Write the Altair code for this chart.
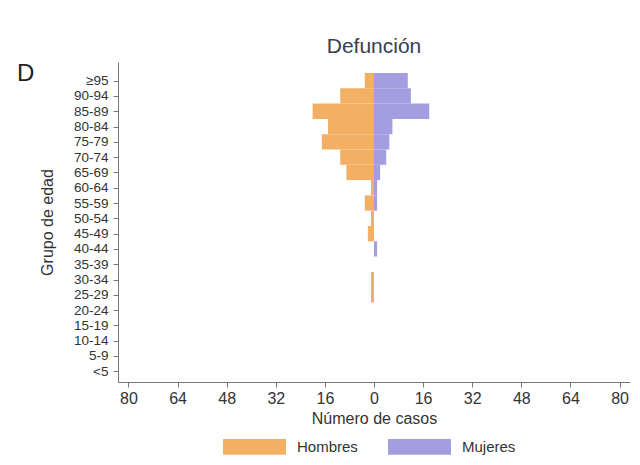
import json
import altair as alt
import pandas as pd

# Age groups from youngest to oldest (bottom to top of the pyramid)
grupos = ["<5", "5-9", "10-14", "15-19", "20-24", "25-29", "30-34", "35-39",
          "40-44", "45-49", "50-54", "55-59", "60-64", "65-69", "70-74",
          "75-79", "80-84", "85-89", "90-94", "≥95"]
hombres = [0, 0, 0, 0, 0, 1, 1, 0, 0, 2, 1, 3, 1, 9, 11, 17, 15, 20, 11, 3]
mujeres = [0, 0, 0, 0, 0, 0, 0, 0, 1, 0, 0, 1, 1, 2, 4, 5, 6, 18, 12, 11]
series = ["Hombres", "Mujeres"]
colores = ["#F3B064", "#A39EE0"]
x_ticks = [-80, -64, -48, -32, -16, 0, 16, 32, 48, 64, 80]
titulo = "Defunción"
panel = ["D"]

rows = []
for i, g in enumerate(grupos):
    rows.append({"idx": i, "grupo": g, "sexo": "Hombres", "n": hombres[i], "signo": -1})
    rows.append({"idx": i, "grupo": g, "sexo": "Mujeres", "n": mujeres[i], "signo": 1})
df = pd.DataFrame(rows)

FONT = "Liberation Sans"
label_expr = json.dumps(grupos, ensure_ascii=False) + "[datum.value]"

bars = alt.Chart(df).transform_calculate(
    xv="datum.signo * datum.n",
    y0="datum.idx - 0.5",
    y1="datum.idx + 0.5",
).mark_bar(strokeWidth=0).encode(
    x=alt.X("xv:Q", scale=alt.Scale(domain=[-83.4, 83.4], nice=False, zero=False),
            axis=alt.Axis(values=x_ticks, labelExpr="abs(datum.value)",
                          title="Número de casos", grid=False)),
    x2=alt.datum(0),
    y=alt.Y("y0:Q", scale=alt.Scale(domain=[-0.7, 20.22], nice=False, zero=False),
            axis=alt.Axis(values=list(range(len(grupos))), labelExpr=label_expr,
                          title="Grupo de edad", grid=False, labelFontSize=13.5,
                          labelOverlap=False, labelBound=False)),
    y2="y1:Q",
    color=alt.Color("sexo:N", scale=alt.Scale(domain=series, range=colores),
                    legend=alt.Legend(title=None, orient="none", direction="horizontal",
                                      columns=2, legendX=105, legendY=353,
                                      symbolType="M-1,-0.25H1V0.25H-1Z",
                                      symbolSize=3969, symbolStrokeWidth=0,
                                      labelOffset=11, columnPadding=30,
                                      labelFontSize=15, labelFont=FONT,
                                      labelColor="#333333")),
)

letra = alt.Chart(pd.DataFrame({"t": panel})).mark_text(
    align="left", baseline="middle", fontSize=24, font=FONT, color="#222222"
).encode(text="t:N", x=alt.value(-101), y=alt.value(12))

chart = alt.layer(bars, letra).properties(
    width=512, height=320,
    title=alt.TitleParams(titulo, fontSize=21, font=FONT, fontWeight="normal",
                          color="#3a3d4f", anchor="middle", offset=5),
    padding={"left": 110, "top": 54, "right": 2, "bottom": 75},
    autosize=alt.AutoSizeParams(type="none"),
    background="white",
).configure_view(stroke=None).configure_axis(
    labelFont=FONT, titleFont=FONT, labelFontSize=16, titleFontSize=16,
    labelColor="#333333", titleColor="#333333", titleFontWeight="normal",
    domainColor="#777777", tickColor="#777777", tickSize=5,
    labelPadding=3,
).configure_axisX(titlePadding=4).configure_axisY(
    labelAngle=0, titlePadding=18, labelPadding=5
)

chart.save("out.html", embed_options={"renderer": "svg", "actions": False})
